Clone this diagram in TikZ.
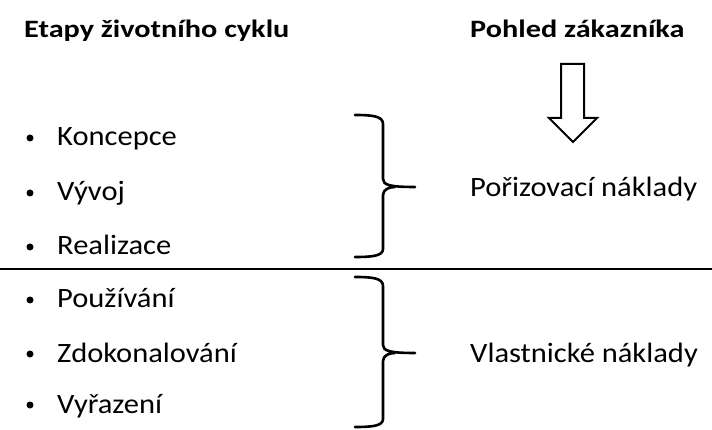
\documentclass[tikz,border=0pt]{standalone}
\usepackage{fontspec}
\setmainfont{Carlito}
\begin{document}
\begin{tikzpicture}[x=1pt,y=-1pt,
  heading/.style={anchor=base west,inner sep=0pt,xscale=1.21,transform shape,
    font=\fontsize{25}{29}\selectfont\bfseries},
  item/.style={anchor=base west,inner sep=0pt,xscale=1.09,transform shape,
    font=\fontsize{28}{32}\selectfont},
  dot/.style={circle,fill=black,inner sep=0pt,minimum size=7pt},
  brace/.style={line width=2.6pt,line cap=round,line join=round},
  divider/.style={line width=2pt}]
\useasboundingbox (0,0) rectangle (712,430);

% column headings
\node[heading] (hLeft) at (24,38) {Etapy životního cyklu};
\node[heading] (hRight) at (470,38) {Pohled zákazníka};

% hollow down arrow
\draw[line width=2pt,fill=white,line join=miter]
  (561,64) -- (584,64) -- (584,118) -- (597,118) -- (573,142)
  -- (549,118) -- (561,118) -- cycle;

% life-cycle stages
\foreach \n/\t/\y in {a/Koncepce/146, b/Vývoj/201, c/Realizace/255,
                      d/Používání/308, e/Zdokonalování/362, f/Vyřazení/413}{
  \node[dot] (dot\n) at (30,\y-8) {};
  \node[item] (st\n) at (57,\y) {\t};
}

% divider between the two phases
\coordinate (divL) at (0,269);
\coordinate (divR) at (712,269);
\draw[divider] (divL) -- (divR);

% braces
\draw[brace] (355,115) .. controls (372,115) and (383,116) .. (383,124)
  -- (383,179) .. controls (383,185) and (390,187) .. (415,187)
  (383,195) .. controls (383,189) and (390,187) .. (395,187)
  (383,195) -- (383,249) .. controls (383,256) and (372,257) .. (355,257);
\draw[brace] (355,277) .. controls (372,277) and (383,278) .. (383,286)
  -- (383,345) .. controls (383,351) and (390,353) .. (415,353)
  (383,361) .. controls (383,355) and (390,353) .. (395,353)
  (383,361) -- (383,419) .. controls (383,426) and (372,427) .. (355,427);

% cost categories
\node[item] (costA) at (470,197) {Pořizovací náklady};
\node[item] (costB) at (470,362) {Vlastnické náklady};
\end{tikzpicture}
\end{document}
